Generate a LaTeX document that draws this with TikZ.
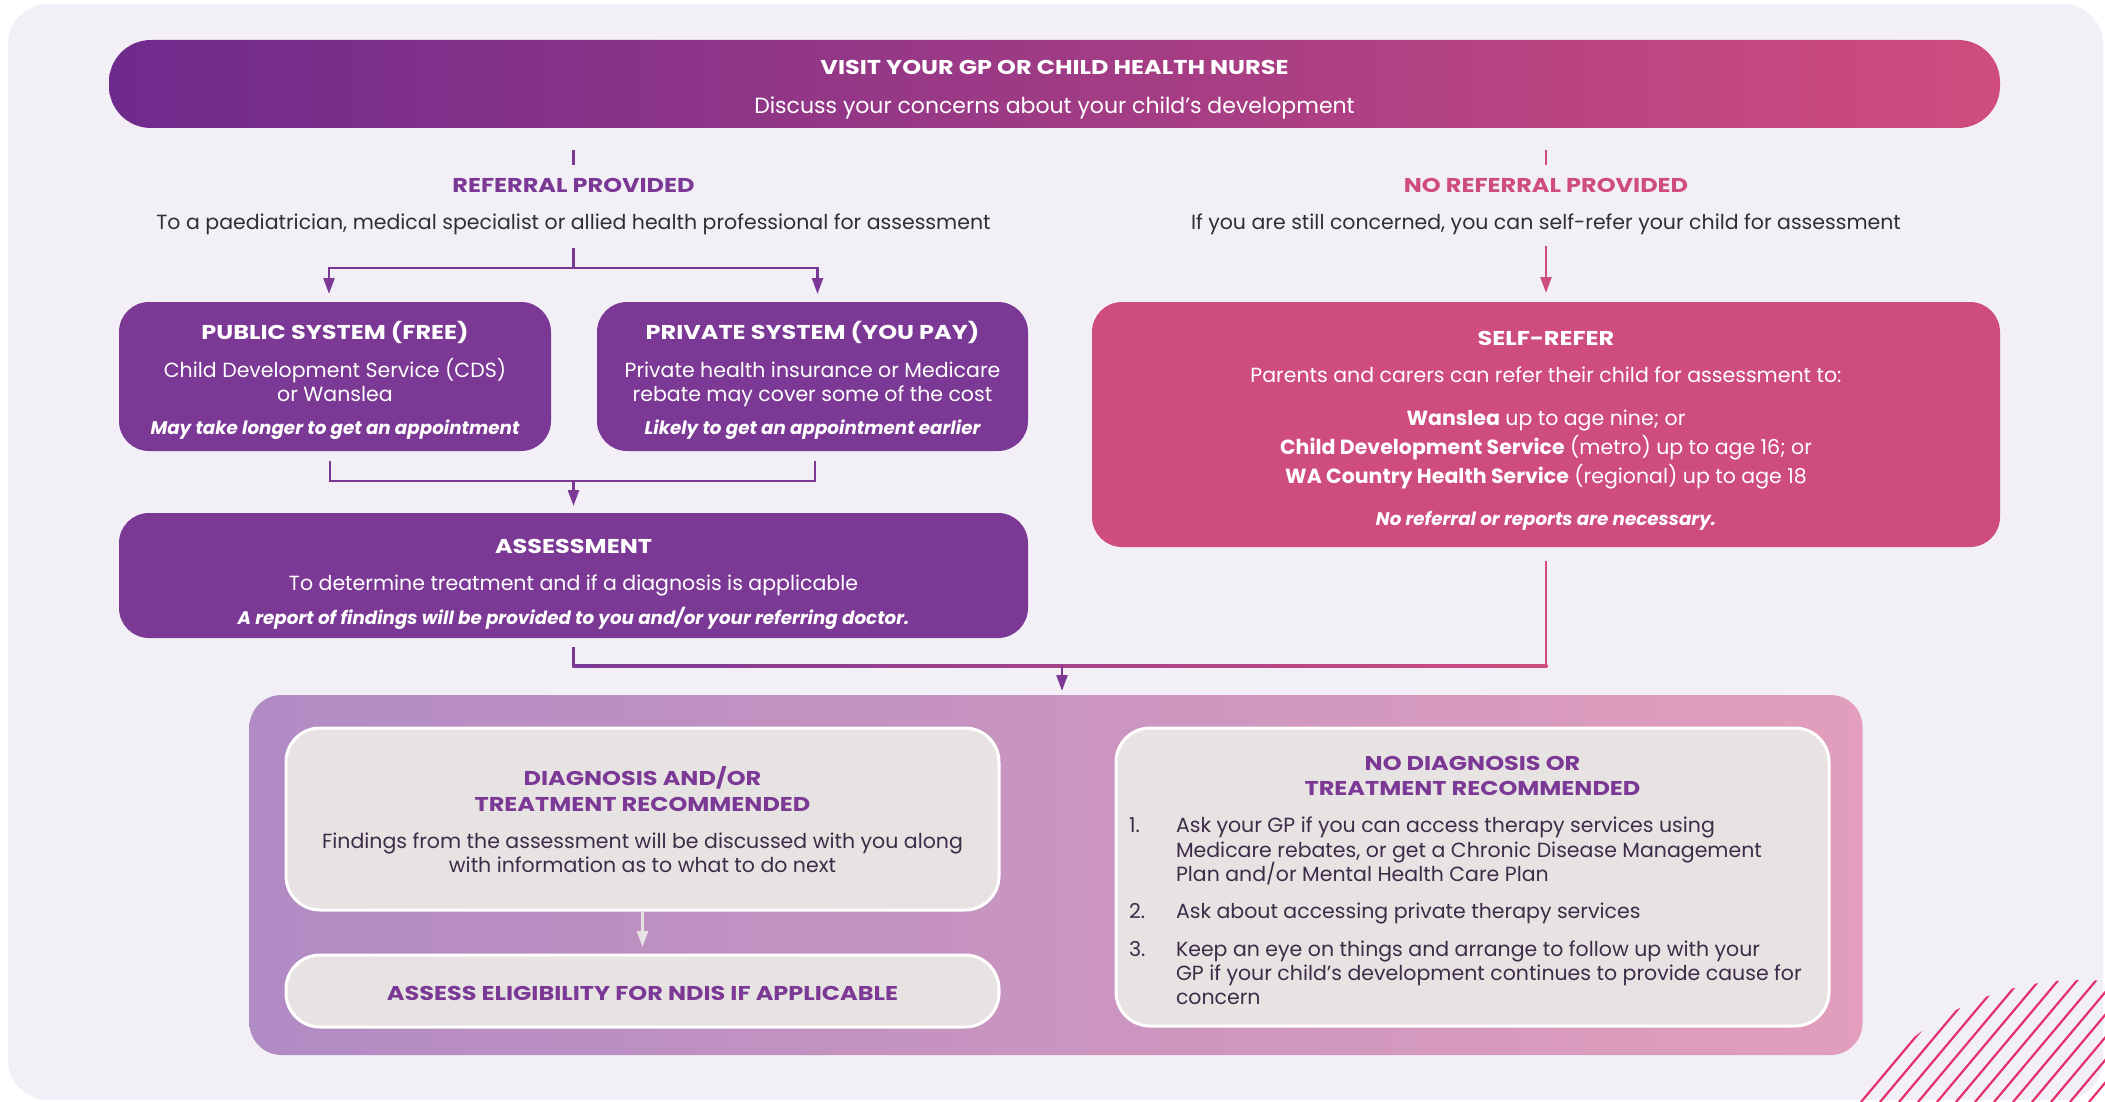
\documentclass[tikz,border=0pt]{standalone}
\usepackage{fontspec}
\setmainfont{Poppins}
\newfontfamily\titlefam{Poppins}[FakeStretch=1.2]
\usetikzlibrary{arrows.meta,calc}
\definecolor{bgc}{HTML}{F2F0F6}
\definecolor{purp}{HTML}{7B3995}
\definecolor{pinkc}{HTML}{CF4C7E}
\definecolor{bandL}{HTML}{6E2A8C}
\definecolor{bandR}{HTML}{D04C7E}
\definecolor{panL}{HTML}{B18BC4}
\definecolor{panR}{HTML}{E29EBC}
\definecolor{lboxc}{HTML}{E8E3E3}
\definecolor{txtc}{HTML}{2F2F33}
\definecolor{dtxt}{HTML}{3D2C48}
\definecolor{stripec}{HTML}{E4306E}
\newcommand\fbody{\fontsize{20.5}{24}\selectfont}
\newcommand\ftitle{\fontsize{20}{24}\selectfont\titlefam\bfseries}
\newcommand\fital{\fontsize{18.3}{22}\selectfont\bfseries\itshape}
\begin{document}
\begin{tikzpicture}[x=1pt,y=-1pt,
  every node/.style={inner sep=0pt, outer sep=0pt},
  boxshape/.style={rectangle, draw=none, rounded corners=30pt},
  pbox/.style={boxshape, fill=purp},
  kbox/.style={boxshape, fill=pinkc},
  lightbox/.style={rectangle, draw=white, line width=3pt, fill=lboxc, rounded corners=34pt},
  tx/.style={anchor=base, font=\fbody, text=txtc},
  wt/.style={anchor=base, font=\fbody, text=white},
  wtb/.style={anchor=base, font=\ftitle, text=white},
  wti/.style={anchor=base, font=\fital, text=white},
  ptb/.style={anchor=base, font=\ftitle, text=purp},
  dt/.style={anchor=base, font=\fbody, text=dtxt},
  dtl/.style={anchor=base west, font=\fbody, text=dtxt},
  conn/.style={line width=2.5pt},
  arr/.style={conn, -{Triangle[length=16pt,width=11pt]}},
]
\useasboundingbox (0,0) rectangle (2105,1102);
\fill[white] (0,0) rectangle (2105,1102);
\fill[bgc, rounded corners=40pt] (8,4) rectangle (2103,1100);

% banner
\node[boxshape, rounded corners=42pt, left color=bandL, right color=bandR,
      minimum width=1891pt, minimum height=88pt] (visit) at (1054.5,84) {};
\node[wtb] (visitT) at (1054.5,75) {VISIT YOUR GP OR CHILD HEALTH NURSE};
\node[wt, font=\fontsize{22}{26}\selectfont]  (visitS) at (1054.5,114) {Discuss your concerns about your child’s development};

% branch labels
\node[ptb] (refT) at (573.5,193) {REFERRAL PROVIDED};
\node[tx]  (refS) at (573.5,230) {To a paediatrician, medical specialist or allied health professional for assessment};
\node[anchor=base, font=\ftitle, text=pinkc] (nrefT) at (1546,193) {NO REFERRAL PROVIDED};
\node[tx]  (nrefS) at (1546,230) {If you are still concerned, you can self-refer your child for assessment};

% purple boxes
\node[pbox, minimum width=432pt, minimum height=149pt] (pub) at (335,376.5) {};
\node[wtb] (pubT) at (335,339) {PUBLIC SYSTEM (FREE)};
\node[wt]  (pub1) at (335,377) {Child Development Service (CDS)};
\node[wt]  (pub2) at (335,401) {or Wanslea};
\node[wti] (pub3) at (335,434) {May take longer to get an appointment};

\node[pbox, minimum width=431pt, minimum height=149pt] (priv) at (812.5,376.5) {};
\node[wtb] (privT) at (812.5,339) {PRIVATE SYSTEM (YOU PAY)};
\node[wt]  (priv1) at (812.5,377) {Private health insurance or Medicare};
\node[wt]  (priv2) at (812.5,401) {rebate may cover some of the cost};
\node[wti] (priv3) at (812.5,434) {Likely to get an appointment earlier};

\node[pbox, minimum width=909pt, minimum height=125pt] (assess) at (573.5,575.5) {};
\node[wtb] (assT) at (573.5,553) {ASSESSMENT};
\node[wt]  (ass1) at (573.5,590) {To determine treatment and if a diagnosis is applicable};
\node[wti] (ass2) at (573.5,624) {A report of findings will be provided to you and/or your referring doctor.};

% self refer
\node[kbox, minimum width=908pt, minimum height=245pt] (self) at (1546,424.5) {};
\node[wtb] (selfT) at (1546,345) {SELF-REFER};
\node[wt]  (self1) at (1546,382) {Parents and carers can refer their child for assessment to:};
\node[wt]  (self2) at (1546,425) {\textbf{Wanslea} up to age nine; or};
\node[wt]  (self3) at (1546,454) {\textbf{Child Development Service} (metro) up to age 16; or};
\node[wt]  (self4) at (1546,483) {\textbf{WA Country Health Service} (regional) up to age 18};
\node[wti] (self5) at (1546,525) {No referral or reports are necessary.};

% bottom panel
\node[boxshape, rounded corners=32pt, left color=panL, right color=panR,
      minimum width=1613pt, minimum height=360pt] (panel) at (1056,875) {};

\node[lightbox, minimum width=713pt, minimum height=182pt] (diag) at (642.5,819) {};
\node[ptb] (diagT1) at (642.5,785) {DIAGNOSIS AND/OR};
\node[ptb] (diagT2) at (642.5,811) {TREATMENT RECOMMENDED};
\node[dt]  (diag1) at (642.5,848) {Findings from the assessment will be discussed with you along};
\node[dt]  (diag2) at (642.5,872) {with information as to what to do next};

\node[lightbox, minimum width=713pt, minimum height=72pt] (ndis) at (642.5,991) {};
\node[ptb] (ndisT) at (642.5,1000) {ASSESS ELIGIBILITY FOR NDIS IF APPLICABLE};

\node[lightbox, minimum width=713pt, minimum height=298pt] (nod) at (1472.5,877) {};
\node[ptb] (nodT1) at (1472.5,770) {NO DIAGNOSIS OR};
\node[ptb] (nodT2) at (1472.5,795) {TREATMENT RECOMMENDED};
\node[dtl] (n1) at (1129,832) {1.};
\node[dtl] (n1a) at (1176,832) {Ask your GP if you can access therapy services using};
\node[dtl] (n1b) at (1176,857) {Medicare rebates, or get a Chronic Disease Management};
\node[dtl] (n1c) at (1176,881) {Plan and/or Mental Health Care Plan};
\node[dtl] (n2) at (1129,918) {2.};
\node[dtl] (n2a) at (1176,918) {Ask about accessing private therapy services};
\node[dtl] (n3) at (1129,956) {3.};
\node[dtl] (n3a) at (1176,956) {Keep an eye on things and arrange to follow up with your};
\node[dtl] (n3b) at (1176,980) {GP if your child’s development continues to provide cause for};
\node[dtl] (n3c) at (1176,1004) {concern};

% connectors
\draw[conn, purp] ($(visit.south -| refT)+(0,22)$) -- ($(visit.south -| refT)+(0,37)$);
\draw[conn, pinkc] ($(visit.south -| nrefT)+(0,22)$) -- ($(visit.south -| nrefT)+(0,37)$);

\coordinate (split) at (573.5,268);
\draw[conn, purp] ($(refS.base)+(0,18)$) -- (split);
\draw[arr, purp, shorten >=8pt] (split) -| ($(pub.north)+(-6,0)$);
\draw[arr, purp, shorten >=8pt] (split) -| ($(priv.north)+(5,0)$);

\draw[arr, pinkc, shorten >=9pt] ($(nrefS.base)+(0,16)$) -- (self.north);

\coordinate (join) at (573.5,481);
\draw[conn, purp] ($(pub.south)+(-5,10)$) |- (join);
\draw[conn, purp] ($(priv.south)+(2.5,10)$) |- (join);
\draw[arr, purp, shorten >=7pt] (join) -- (assess.north);

\coordinate (jl) at (573.5,666);
\coordinate (jr) at (1546,666);
\coordinate (jm) at (1062,666);
\draw[conn, purp] ($(assess.south)+(0,9)$) -- (jl);
\draw[conn, pinkc] ($(self.south)+(0,14)$) -- (jr);
\shade[left color=purp, right color=pinkc] ($(jl)+(-1.25,-1.25)$) rectangle ($(jr)+(1.25,1.25)$);
\draw[arr, purp, shorten >=4pt] (jm) -- (jm |- panel.north);

\draw[arr, lboxc, shorten <=2pt, shorten >=8pt] (diag.south) -- (ndis.north);

% stripes
\begin{scope}
\clip (0,0) rectangle (2105,1102);
\clip (2080,1250) circle (270);
\foreach \i in {0,...,30} {
  \draw[stripec, line width=2.2pt] (1690+\i*19,1102) -- ++(330,-393);
}
\end{scope}
\end{tikzpicture}
\end{document}
